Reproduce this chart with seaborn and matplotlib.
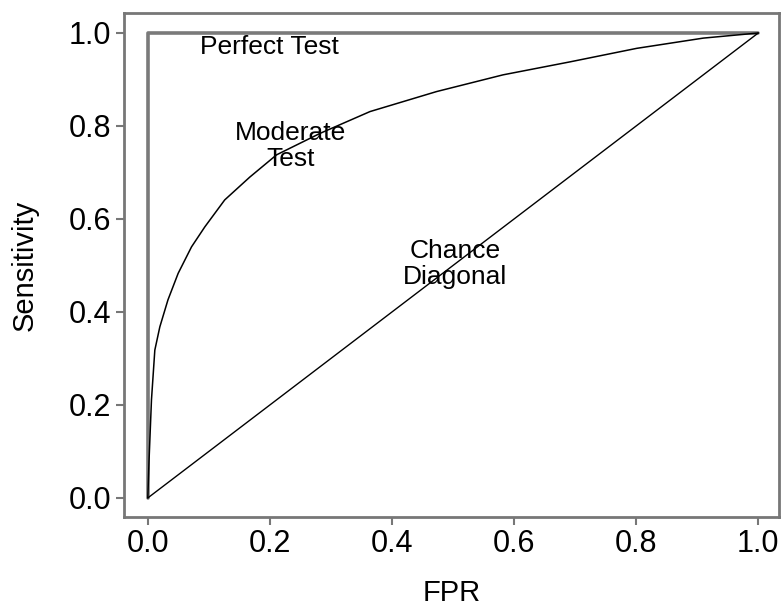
import matplotlib
matplotlib.use("Agg")
import matplotlib.pyplot as plt
import seaborn as sns
import pandas as pd

# Data
perfect_fpr = [0.0, 0.0, 1.0]
perfect_sens = [0.0, 1.0, 1.0]

moderate_fpr = [0.0, 0.002, 0.006, 0.0115, 0.0197, 0.033, 0.0497, 0.0716, 0.0934,
                0.126, 0.167, 0.211, 0.282, 0.364, 0.473, 0.582, 0.692, 0.801, 0.910, 1.0]
moderate_sens = [0.0, 0.08, 0.211, 0.318, 0.368, 0.426, 0.483, 0.540, 0.583,
                 0.641, 0.690, 0.738, 0.784, 0.831, 0.874, 0.910, 0.938, 0.967, 0.989, 1.0]

chance_fpr = [0.0, 1.0]
chance_sens = [0.0, 1.0]

x_ticks = [0.0, 0.2, 0.4, 0.6, 0.8, 1.0]
y_ticks = [0.0, 0.2, 0.4, 0.6, 0.8, 1.0]

labels = ["Perfect Test", "Moderate\nTest", "Chance\nDiagonal"]
label_x = [0.20, 0.234, 0.503]
label_y = [0.97, 0.757, 0.503]

sns.set_theme(style="ticks")
plt.rcParams['font.family'] = ['Liberation Sans', 'DejaVu Sans']

fig = plt.figure(figsize=(7.82, 6.10), dpi=100)
ax = fig.add_axes([124/782, 1 - 517/610, (779-124)/782, (517-13)/610])

df_p = pd.DataFrame({"FPR": perfect_fpr, "Sensitivity": perfect_sens})
df_m = pd.DataFrame({"FPR": moderate_fpr, "Sensitivity": moderate_sens})
df_c = pd.DataFrame({"FPR": chance_fpr, "Sensitivity": chance_sens})

sns.lineplot(data=df_p, x="FPR", y="Sensitivity", sort=False, ax=ax,
             color="#7a7a7a", linewidth=2.6, estimator=None)
sns.lineplot(data=df_m, x="FPR", y="Sensitivity", sort=False, ax=ax,
             color="black", linewidth=1.1, estimator=None)
sns.lineplot(data=df_c, x="FPR", y="Sensitivity", sort=False, ax=ax,
             color="black", linewidth=1.0, estimator=None)

for t, xx, yy in zip(labels, label_x, label_y):
    ax.text(xx, yy, t, ha="center", va="center", fontsize=19, color="black",
            linespacing=1.15)

ax.set_xlim(-0.039, 1.034)
ax.set_ylim(-0.041, 1.043)
ax.set_xticks(x_ticks)
ax.set_yticks(y_ticks)
ax.set_xticklabels([f"{v:.1f}" for v in x_ticks])
ax.set_yticklabels([f"{v:.1f}" for v in y_ticks])
ax.tick_params(axis="both", labelsize=22, length=6, width=1.5, color="#777777",
               pad=3, labelcolor="black")
for s in ax.spines.values():
    s.set_visible(True)
    s.set_color("#777777")
    s.set_linewidth(2.0)

ax.set_xlabel("FPR", fontsize=21, labelpad=14, color="black")
ax.set_ylabel("Sensitivity", fontsize=21, labelpad=22, color="black")

fig.savefig("out.png", dpi=100)
